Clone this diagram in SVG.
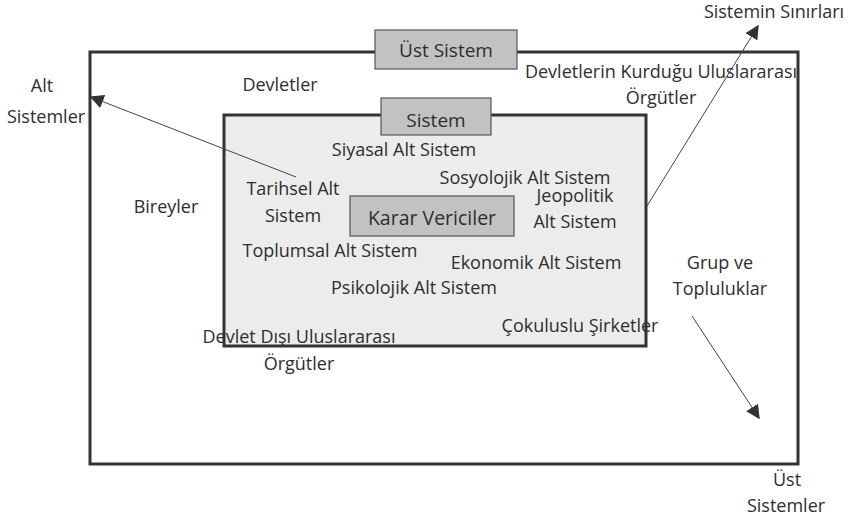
<svg xmlns="http://www.w3.org/2000/svg" width="856" height="522" viewBox="0 0 856 522">
<defs>
<style>
text{font-family:"Open Sans","Liberation Sans",sans-serif;font-size:18px;fill:#2e2e2e;text-anchor:middle}
.frame{stroke:#333;stroke-width:3}
.tag{fill:#c2c2c2;stroke:#555;stroke-width:1.2}
.tag-t{font-size:19px}
.conn{stroke:#444;stroke-width:1;fill:none;marker-end:url(#ah)}
</style>
<marker id="ah" viewBox="0 0 10 10" refX="9" refY="5" markerWidth="14" markerHeight="14" markerUnits="userSpaceOnUse" orient="auto">
<path d="M0,0 L10,5 L0,10 z" fill="#333"/>
</marker>
</defs>
<rect width="856" height="522" fill="#fff"/>
<g id="ust-sistem-frame">
<rect class="frame" x="90" y="52" width="708" height="412" fill="#fff"/>
</g>
<g id="ust-sistem-label">
<rect class="tag" x="375" y="30" width="142" height="39"/>
<text class="tag-t" x="446" y="57">Üst Sistem</text>
</g>
<g id="sistem-frame">
<rect class="frame" x="224" y="115" width="422" height="231" fill="#ececec"/>
</g>
<g id="sistem-label">
<rect class="tag" x="381" y="98" width="110" height="37"/>
<text class="tag-t" x="436" y="127">Sistem</text>
</g>
<g id="karar-vericiler">
<rect class="tag" x="350" y="196" width="164" height="40"/>
<text x="432" y="225" style="font-size:19.5px">Karar Vericiler</text>
</g>
<g id="connectors">
<line class="conn" x1="296" y1="177" x2="91" y2="97"/>
<line class="conn" x1="647" y1="206" x2="758" y2="26"/>
<line class="conn" x1="692" y1="316" x2="759" y2="418"/>
</g>
<g id="labels">
<text x="42" y="92">Alt</text>
<text x="46" y="123">Sistemler</text>
<text x="280" y="91">Devletler</text>
<text x="661" y="78">Devletlerin Kurduğu Uluslararası</text>
<text x="661" y="104">Örgütler</text>
<text x="774" y="18">Sistemin Sınırları</text>
<text x="404" y="156">Siyasal Alt Sistem</text>
<text x="525" y="184">Sosyolojik Alt Sistem</text>
<text x="575" y="202">Jeopolitik</text>
<text x="575" y="228">Alt Sistem</text>
<text x="293" y="195">Tarihsel Alt</text>
<text x="293" y="222">Sistem</text>
<text x="166" y="213">Bireyler</text>
<text x="330" y="257">Toplumsal Alt Sistem</text>
<text x="536" y="269">Ekonomik Alt Sistem</text>
<text x="414" y="294">Psikolojik Alt Sistem</text>
<text x="580" y="332">Çokuluslu Şirketler</text>
<text x="299" y="343">Devlet Dışı Uluslararası</text>
<text x="299" y="370">Örgütler</text>
<text x="720" y="269">Grup ve</text>
<text x="720" y="295">Topluluklar</text>
<text x="787" y="486">Üst</text>
<text x="786" y="512">Sistemler</text>
</g>
</svg>
